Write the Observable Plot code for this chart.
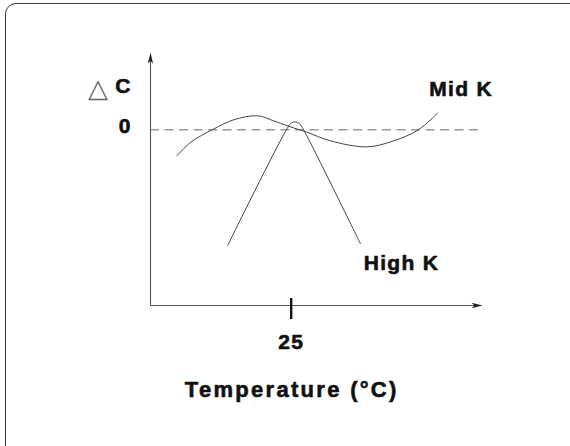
<!DOCTYPE html>
<html>
<head>
<meta charset="utf-8">
<script src="https://cdn.jsdelivr.net/npm/d3@7"></script>
<script src="https://cdn.jsdelivr.net/npm/@observablehq/plot@0.6"></script>
<style>
  html, body { margin: 0; padding: 0; background: #fff; overflow: hidden; }
  #wrap { position: relative; width: 570px; height: 446px; overflow: hidden; }
  #frame { position: absolute; left: 5px; top: 3px; width: 620px; height: 480px;
           border: 1.6px solid #3a3a3a; border-radius: 11px; pointer-events: none; box-sizing: border-box; }
  svg text { letter-spacing: 1.3px; }
  svg g.xtitle text { letter-spacing: 2.3px; }
</style>
</head>
<body>
<div id="wrap"><div id="frame"></div></div>
<script>
// Series: Mid K (smooth curve) and High K (peaked curve), relative units
const midX  = [4.7, 7.1, 11.2, 14.8, 19.0, 21.9, 24.3, 27.9, 32.0, 38.5, 43.2, 47.6, 51.0];
const midY  = [-1.48, -0.72, 0.04, 0.57, 0.80, 0.51, 0.23, -0.15, -0.63, -0.97, -0.63, 0.0, 0.95];
const highX = [13.7, 24.35, 25.06, 25.77, 26.5, 27.2, 37.3];
const highY = [-6.59, 0.11, 0.40, 0.45, 0.34, 0.0, -6.48];
const seriesNames = ["Mid K", "High K"];
const xTickValues = [25];
const xTickLabels = ["25"];
const yTickValues = [0];
const yTickLabels = ["0"];
const xTitle = "Temperature (°C)";
const yTitle = "C";

const xMin = 0, xMax = 59, yMin = -10, yMax = 4.4;

const mid = midX.map((x, i) => ({x, y: midY[i]}));
const high = highX.map((x, i) => ({x, y: highY[i]}));

const arrowRight = { draw(ctx) { ctx.moveTo(0, 0); ctx.lineTo(-11, -2.8); ctx.lineTo(-8, 0); ctx.lineTo(-11, 2.8); ctx.closePath(); } };
const arrowUp = { draw(ctx) { ctx.moveTo(0, 0); ctx.lineTo(-2.6, 11); ctx.lineTo(0, 8.5); ctx.lineTo(2.6, 11); ctx.closePath(); } };

const font = "'Liberation Sans', Arial, Helvetica, sans-serif";
const axisColor = "#555";
const ink = "#111";
const fs = 21;
const bold = {fontSize: fs, fontWeight: "bold", fill: ink, stroke: ink, strokeWidth: 0.6};

const chart = Plot.plot({
  width: 570,
  height: 446,
  marginLeft: 150,
  marginRight: 88,
  marginTop: 52,
  marginBottom: 141,
  x: {domain: [xMin, xMax], axis: null},
  y: {domain: [yMin, yMax], axis: null},
  style: {fontFamily: font, background: "transparent", overflow: "visible"},
  marks: [
    // zero reference line (dashed)
    Plot.ruleY(yTickValues, {x1: xMin, x2: xMax, stroke: "#999", strokeWidth: 1.6, strokeDasharray: "9,5.5"}),
    // axes
    Plot.ruleY([yMin], {x1: xMin, x2: xMax - 1, stroke: axisColor, strokeWidth: 1.1}),
    Plot.ruleX([xMin], {y1: yMin, y2: yMax - 0.4, stroke: axisColor, strokeWidth: 1.1}),
    Plot.dot([{x: xMax, y: yMin}], {x: "x", y: "y", symbol: arrowRight, fill: "#222", stroke: null}),
    Plot.dot([{x: xMin, y: yMax}], {x: "x", y: "y", symbol: arrowUp, fill: "#222", stroke: null}),
    // x tick
    Plot.ruleX(xTickValues, {y1: yMin + 0.4, y2: yMin - 0.8, stroke: "#111", strokeWidth: 2.4}),
    Plot.text(xTickValues, {x: d => d, y: yMin - 2.1, text: (d, i) => xTickLabels[i], ...bold}),
    // y tick label
    Plot.text(yTickValues, {x: xMin - 4.5, y: d => d + 0.2, text: (d, i) => yTickLabels[i], ...bold}),
    // axis titles
    Plot.text([xTitle], {x: 25.1, y: yMin - 4.8, text: d => d, ...bold, fontSize: 22, className: "xtitle"}),
    Plot.text(["△"], {x: xMin - 9.2, y: 2.35, text: d => d, fontSize: 26, fontFamily: "'DejaVu Sans', sans-serif", fill: "#666"}),
    Plot.text([yTitle], {x: xMin - 4.8, y: 2.45, text: d => d, ...bold}),
    // series
    Plot.line(mid, {x: "x", y: "y", curve: "catmull-rom", stroke: "#444", strokeWidth: 1}),
    Plot.line(high, {x: "x", y: "y", curve: "catmull-rom", stroke: "#444", strokeWidth: 1}),
    // series labels
    Plot.text([seriesNames[0]], {x: 55.2, y: 2.33, text: d => d, ...bold}),
    Plot.text([seriesNames[1]], {x: 44.6, y: -7.6, text: d => d, ...bold})
  ]
});
document.getElementById("wrap").prepend(chart);
</script>
</body>
</html>
